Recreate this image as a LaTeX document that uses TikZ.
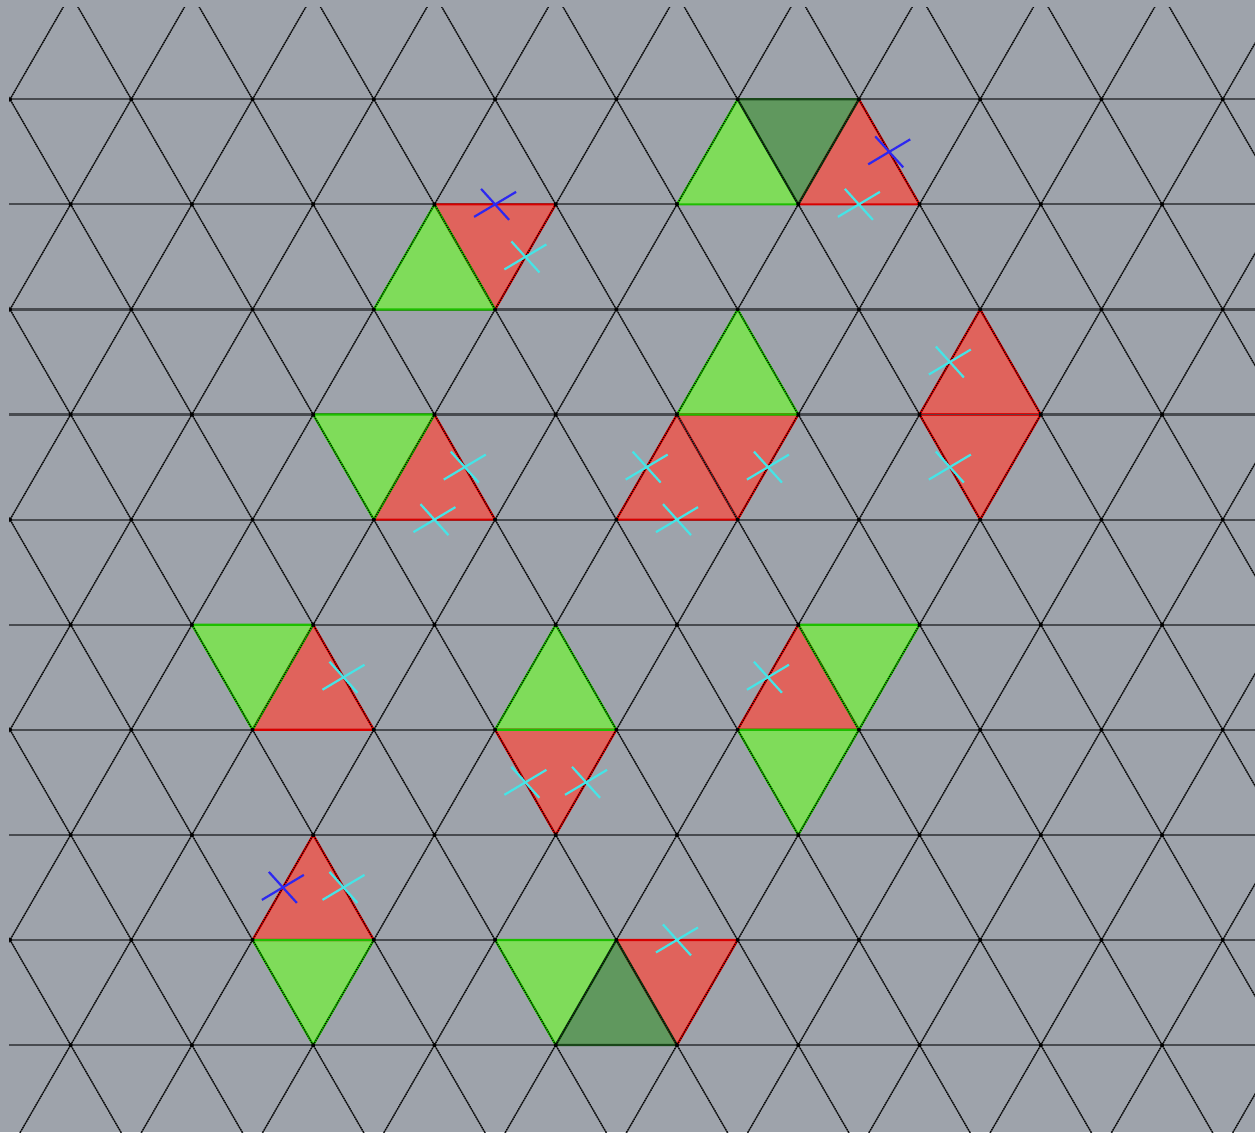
\documentclass[tikz,border=0pt]{standalone}
\definecolor{bg}{RGB}{158,163,171}
\definecolor{lgreen}{RGB}{127,220,90}
\definecolor{dgreen}{RGB}{96,152,94}
\definecolor{redf}{RGB}{224,99,92}
\definecolor{gline}{RGB}{30,190,0}
\definecolor{rline}{RGB}{215,0,0}
\definecolor{dgline}{RGB}{25,70,25}
\definecolor{hline}{RGB}{72,75,80}
\definecolor{dline}{RGB}{60,62,66}
\definecolor{xcyan}{RGB}{70,228,230}
\definecolor{xblue}{RGB}{45,40,240}
\tikzset{
  hgrid/.style={draw=hline, line width=2.2pt},
  dgrid/.style={draw=dline, line width=1.3pt},
  ddots/.style={draw=black, line width=1.3pt, dash pattern=on 1pt off 1.4pt},
  redfill/.style={fill=redf},
  lgfill/.style={fill=lgreen},
  dgfill/.style={fill=dgreen},
  rededge/.style={draw=rline, line width=2.2pt, line join=round},
  lgedge/.style={draw=gline, line width=2.2pt, line join=round},
  dgedge/.style={draw=dgline, line width=2.2pt, line join=round},
  inneredge/.style={draw=hline, line width=1.6pt, opacity=0.8},
  xcy/.style={draw=xcyan, line width=2.2pt},
  xbl/.style={draw=xblue, line width=2.2pt},
}
\begin{document}
\begin{tikzpicture}[x=1pt,y=-1pt]
\fill[bg] (0,0) rectangle (1255,1132);
\useasboundingbox (0,0) rectangle (1255,1132);
\begin{scope}
\clip (9,8) rectangle (1255,1132);
\begin{scope}[shift={(10pt,-99.3pt)}, x={(60.635pt,0pt)}, y={(0pt,-105.08pt)}]
  % grid solid lines
  \foreach \b in {0,...,9} \draw[hgrid] (-1,\b) -- (22,\b);
  \foreach \k in {-12,-10,...,22} \draw[dgrid] (\k-1,-1) -- (\k+11,11);
  \foreach \k in {-2,0,...,32} \draw[dgrid] (\k+1,-1) -- (\k-11,11);
  % fills
  \foreach \a/\b/\c/\d/\e/\f in {13/1/15/1/14/0, 7/1/9/1/8/2, 11/3/13/3/12/4, 10/4/12/4/11/3,
      15/3/17/3/16/2, 15/3/17/3/16/4, 6/4/8/4/7/3, 4/6/6/6/5/5, 8/6/10/6/9/7,
      12/6/14/6/13/5, 4/8/6/8/5/7, 10/8/12/8/11/9}
    \fill[redfill] (\a,\b) -- (\c,\d) -- (\e,\f) -- cycle;
  \foreach \a/\b/\c/\d/\e/\f in {11/1/13/1/12/0, 6/2/8/2/7/1, 11/3/13/3/12/2, 5/3/7/3/6/4,
      3/5/5/5/4/6, 8/6/10/6/9/5, 13/5/15/5/14/6, 12/6/14/6/13/7, 4/8/6/8/5/9, 8/8/10/8/9/9}
    \fill[lgfill] (\a,\b) -- (\c,\d) -- (\e,\f) -- cycle;
  \foreach \a/\b/\c/\d/\e/\f in {12/0/14/0/13/1, 9/9/11/9/10/8}
    \fill[dgfill] (\a,\b) -- (\c,\d) -- (\e,\f) -- cycle;
  % outlines
  \foreach \a/\b/\c/\d/\e/\f in {13/1/15/1/14/0, 7/1/9/1/8/2, 11/3/13/3/12/4, 10/4/12/4/11/3,
      15/3/17/3/16/2, 15/3/17/3/16/4, 6/4/8/4/7/3, 4/6/6/6/5/5, 8/6/10/6/9/7,
      12/6/14/6/13/5, 4/8/6/8/5/7, 10/8/12/8/11/9}
    \draw[rededge] (\a,\b) -- (\c,\d) -- (\e,\f) -- cycle;
  \foreach \a/\b/\c/\d/\e/\f in {11/1/13/1/12/0, 6/2/8/2/7/1, 11/3/13/3/12/2, 5/3/7/3/6/4,
      3/5/5/5/4/6, 8/6/10/6/9/5, 13/5/15/5/14/6, 12/6/14/6/13/7, 4/8/6/8/5/9, 8/8/10/8/9/9}
    \draw[lgedge] (\a,\b) -- (\c,\d) -- (\e,\f) -- cycle;
  \foreach \a/\b/\c/\d/\e/\f in {12/0/14/0/13/1, 9/9/11/9/10/8}
    \draw[dgedge] (\a,\b) -- (\c,\d) -- (\e,\f) -- cycle;
  % interior edges between two red triangles
  \draw[inneredge] (15,3) -- (17,3);
  \draw[inneredge] (11,3) -- (12,4);
  % dotted diagonals
  \foreach \k in {-12,-10,...,22} \draw[ddots] (\k-1,-1) -- (\k+11,11);
  \foreach \k in {-2,0,...,32} \draw[ddots] (\k+1,-1) -- (\k-11,11);
  % vertex dots
  \foreach \b in {0,...,9} {
    \foreach \c in {0,2,...,20} {
      \pgfmathtruncatemacro\cc{\c+mod(\b,2)}
      \fill[black] (\cc,\b) circle[radius=2pt];
    }
  }
  % cross marks
  \foreach \a/\b in {14/1, 8.5/1.5, 10.5/3.5, 11/4, 12.5/3.5, 15.5/2.5, 15.5/3.5, 7.5/3.5,
      7/4, 5.5/5.5, 8.5/6.5, 9.5/6.5, 12.5/5.5, 5.5/7.5, 11/8}
    \draw[xcy] (\a,\b) ++(-21pt,-12.5pt) -- ++(42pt,25pt) (\a,\b) ++(-14pt,15.5pt) -- ++(28pt,-31pt);
  \foreach \a/\b in {14.5/0.5, 8/1, 4.5/7.5}
    \draw[xbl] (\a,\b) ++(-21pt,-12.5pt) -- ++(42pt,25pt) (\a,\b) ++(-14pt,15.5pt) -- ++(28pt,-31pt);
\end{scope}
\end{scope}
\end{tikzpicture}
\end{document}
